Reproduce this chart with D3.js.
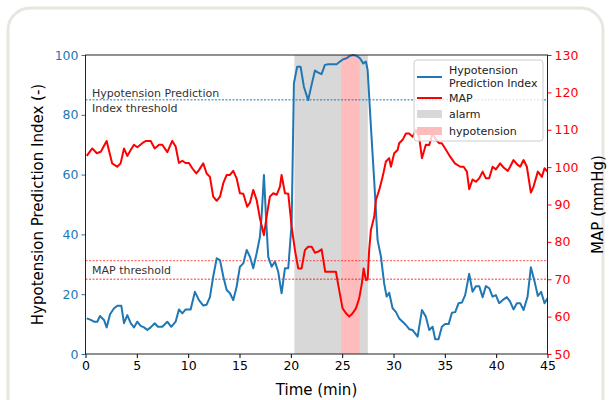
<!DOCTYPE html>
<html>
<head>
<meta charset="utf-8">
<script src="https://cdn.jsdelivr.net/npm/d3@7"></script>
<style>
  body { margin: 0; background: #fff; }
  svg { font-family: "DejaVu Sans", sans-serif; }
</style>
</head>
<body>
<svg id="chart" width="614" height="400"></svg>
<script>
// HPI (Hypotension Prediction Index)
var hpiTime = [0.12,0.51,0.83,1.15,1.41,1.80,2.06,2.39,2.78,3.10,3.49,3.75,4.07,4.40,4.72,5.04,5.37,5.70,6.02,6.35,6.74,7.06,7.48,7.97,8.35,8.78,9.10,9.43,9.76,10.24,10.66,11.05,11.47,11.80,12.12,12.44,12.78,13.10,13.42,13.75,14.07,14.39,14.72,15.04,15.37,15.70,16.02,16.34,16.67,16.99,17.15,17.38,17.58,17.80,18.13,18.45,18.77,19.10,19.43,19.75,20.08,20.30,20.62,20.95,21.27,21.69,22.02,22.35,22.67,22.99,23.32,23.64,24.13,24.46,24.78,25.10,25.43,25.75,26.08,26.41,26.73,27.05,27.31,27.48,27.80,28.12,28.45,28.78,29.09,29.33,29.58,29.91,30.23,30.55,30.89,31.21,31.53,31.86,32.35,32.77,33.15,33.48,33.81,34.06,34.39,34.71,35.03,35.37,35.69,36.01,36.34,36.66,36.98,37.37,37.70,38.02,38.35,38.68,39.00,39.32,39.65,39.97,40.29,40.62,41.04,41.36,41.69,42.02,42.34,42.67,43.06,43.38,43.71,44.06,44.38,44.71,45.0];
var hpiValues = [11.9,11.4,10.8,10.8,12.7,11.4,8.9,13.3,15.3,16.1,16.1,10.3,13.0,10.3,8.9,10.8,9.4,8.9,8.0,8.9,10.3,9.1,9.1,10.8,9.1,10.8,14.9,13.6,14.9,14.9,20.8,18.0,16.2,16.5,19.0,25.9,32.0,31.4,25.9,21.4,20.3,18.0,22.5,29.2,30.3,34.8,32.5,28.7,33.7,39.2,45.9,59.9,45.9,32.5,29.2,30.9,27.5,20.3,28.7,28.7,43.7,90.5,96.1,96.1,89.4,84.9,90.0,94.8,94.1,93.6,96.7,96.9,96.9,96.9,97.8,98.6,98.9,99.7,100,99.7,98.9,97.2,97.8,95.0,76.0,58.0,38.1,32.5,23.6,19.2,20.5,15.3,14.1,11.9,10.8,9.7,8.3,8.0,5.8,14.7,12.5,8.0,9.1,4.9,4.9,9.1,10.0,10.0,13.8,14.0,17.0,17.2,19.7,26.8,20.8,22.7,22.7,19.0,22.7,22.0,19.2,19.7,17.0,18.0,19.0,17.5,14.9,17.0,17.0,14.7,19.2,29.0,24.7,19.4,20.8,17.0,18.6];

// MAP (mmHg)
var mapTime = [0.12,0.66,1.10,1.49,2.06,2.60,3.09,3.42,3.75,4.07,4.40,4.72,5.05,5.53,5.86,6.35,6.74,7.16,7.48,7.97,8.45,8.78,9.10,9.43,9.75,10.08,10.40,10.79,11.05,11.47,11.80,12.12,12.44,12.78,13.10,13.42,13.75,14.07,14.39,14.72,15.04,15.37,15.75,16.02,16.34,16.67,16.99,17.38,17.64,17.96,18.29,18.62,18.94,19.10,19.43,19.75,20.08,20.40,20.72,21.05,21.37,21.69,22.03,22.35,22.67,23.00,23.35,23.74,24.07,24.39,24.71,25.04,25.37,25.69,26.02,26.34,26.66,26.92,27.09,27.31,27.48,27.63,27.80,28.12,28.29,28.61,28.94,29.26,29.58,29.75,30.07,30.40,30.55,30.89,31.21,31.53,31.86,32.18,32.50,32.77,33.15,33.48,33.81,34.14,34.46,34.71,35.03,35.52,35.98,36.50,36.83,37.15,37.37,37.70,38.02,38.35,38.68,39.00,39.32,39.65,39.97,40.39,40.72,41.14,41.36,41.69,42.02,42.34,42.67,42.99,43.38,43.64,44.06,44.45,44.71,45.0];
var mapValues = [103,105,103.7,104.1,107,101,100.1,101,105,103,104.6,106,105.3,106.4,107,107,105,106,106,104,107,105.5,101.1,101.7,101.1,101.1,99.7,98.3,99.2,101,98.3,97.4,92.1,91.0,92.1,95.7,97.9,97.9,99.0,97.0,93.0,92.9,89.4,90.5,93.9,91.2,86.3,81.8,86.7,92.1,93.0,92.6,94.8,97.9,93.0,92.9,84.0,77.8,72.9,72.9,77.8,78.7,78.7,77.1,77.4,78.0,72,72,72,72,67.1,62.2,60.9,60.0,60.9,62.2,64.9,68.9,72.9,69.8,69.9,77.8,83.2,86.7,91.2,93.9,97.4,101.5,102.4,100.1,103.7,104.6,106.4,107.3,109,109,108.1,109.9,108.1,102.4,106,105.9,109,107.3,106.4,106.4,105,102.8,101,100.1,100.1,98.8,94.1,96.7,96.1,97,98.8,97,97,100.1,99.4,101,99.9,99,100.1,101.9,100.8,100.1,101.9,100.1,93.2,94.8,98.8,97.4,99.7,98.8];

var alarmSpan = [20.35, 27.5];
var hypoSpan = [24.9, 26.7];
var hpiThreshold = 85;
var mapThresholds = [75, 70];
var xTicks = [0,5,10,15,20,25,30,35,40,45];
var hpiTicks = [0,20,40,60,80,100];
var mapTicks = [50,60,70,80,90,100,110,120,130];

var blue = "#1f77b4", red = "#ff0000";
// plot box in pixels
var pLeft = 85.5, pRight = 547.5, pTop = 55, pBottom = 354;

var svg = d3.select("#chart");

// card outline
svg.append("rect")
  .attr("x", 8).attr("y", 8).attr("width", 595).attr("height", 430)
  .attr("rx", 22)
  .attr("fill", "#fff").attr("stroke", "#e8e6df").attr("stroke-width", 3);

var x = d3.scaleLinear().domain([0, 45]).range([pLeft, pRight]);
var yL = d3.scaleLinear().domain([0, 100]).range([pBottom, pTop]);
var yR = d3.scaleLinear().domain([50, 130]).range([pBottom, pTop]);

// shaded spans
svg.append("rect")
  .attr("x", x(alarmSpan[0])).attr("y", pTop)
  .attr("width", x(alarmSpan[1]) - x(alarmSpan[0])).attr("height", pBottom - pTop)
  .attr("fill", "#d8d8d8");
svg.append("rect")
  .attr("x", x(hypoSpan[0])).attr("y", pTop)
  .attr("width", x(hypoSpan[1]) - x(hypoSpan[0])).attr("height", pBottom - pTop)
  .attr("fill", "#ffbcbc");

// thresholds
svg.append("line")
  .attr("x1", pLeft).attr("x2", pRight)
  .attr("y1", yL(hpiThreshold)).attr("y2", yL(hpiThreshold))
  .attr("stroke", blue).attr("stroke-width", 1).attr("stroke-dasharray", "2,1.5");
svg.selectAll(".mapth")
  .data(mapThresholds)
  .enter()
  .append("line")
  .attr("class", "mapth")
  .attr("x1", pLeft).attr("x2", pRight)
  .attr("y1", d => yR(d)).attr("y2", d => yR(d))
  .attr("stroke", red).attr("stroke-opacity", 0.55)
  .attr("stroke-width", 1.3).attr("stroke-dasharray", "2,1.5");

svg.append("text").attr("x", 92).attr("y", 97).attr("font-size", 11).attr("fill", "#333")
  .text("Hypotension Prediction");
svg.append("text").attr("x", 92).attr("y", 112).attr("font-size", 11).attr("fill", "#333")
  .text("Index threshold");
svg.append("text").attr("x", 92).attr("y", 274).attr("font-size", 11).attr("fill", "#333")
  .text("MAP threshold");

// lines
var hpiLine = d3.line().x(d => x(d[0])).y(d => yL(d[1]));
var mapLine = d3.line().x(d => x(d[0])).y(d => yR(d[1]));

svg.append("path")
  .datum(d3.zip(hpiTime, hpiValues))
  .attr("d", hpiLine)
  .attr("fill", "none").attr("stroke", blue).attr("stroke-width", 2)
  .attr("stroke-linejoin", "round");
svg.append("path")
  .datum(d3.zip(mapTime, mapValues))
  .attr("d", mapLine)
  .attr("fill", "none").attr("stroke", red).attr("stroke-width", 2)
  .attr("stroke-linejoin", "round");

// axes
var xAxis = svg.append("g")
  .attr("transform", "translate(0," + pBottom + ")")
  .call(d3.axisBottom(x).tickValues(xTicks).tickSize(4).tickPadding(3));
var lAxis = svg.append("g")
  .attr("transform", "translate(" + pLeft + ",0)")
  .call(d3.axisLeft(yL).tickValues(hpiTicks).tickSize(4).tickPadding(3));
var rAxis = svg.append("g")
  .attr("transform", "translate(" + pRight + ",0)")
  .call(d3.axisRight(yR).tickValues(mapTicks).tickSize(4).tickPadding(3));

[xAxis, lAxis, rAxis].forEach(function(g) {
  g.select(".domain").remove();
  g.selectAll("text").attr("font-size", 12.5).attr("font-family", "DejaVu Sans, sans-serif");
});
lAxis.selectAll("line").attr("stroke", blue);
lAxis.selectAll("text").attr("fill", blue);
rAxis.selectAll("line").attr("stroke", red);
rAxis.selectAll("text").attr("fill", red);

// frame
svg.append("rect")
  .attr("x", pLeft).attr("y", pTop).attr("width", pRight - pLeft).attr("height", pBottom - pTop)
  .attr("fill", "none").attr("stroke", "#222").attr("stroke-width", 1);

// axis labels
svg.append("text")
  .attr("x", (pLeft + pRight) / 2).attr("y", 395)
  .attr("text-anchor", "middle").attr("font-size", 15)
  .text("Time (min)");
svg.append("text")
  .attr("transform", "translate(43," + (pTop + pBottom) / 2 + ") rotate(-90)")
  .attr("text-anchor", "middle").attr("font-size", 15)
  .text("Hypotension Prediction Index (-)");
svg.append("text")
  .attr("transform", "translate(603," + (pTop + pBottom) / 2 + ") rotate(-90)")
  .attr("text-anchor", "middle").attr("font-size", 15)
  .text("MAP (mmHg)");

// legend
var legend = svg.append("g");
legend.append("rect")
  .attr("x", 414).attr("y", 60).attr("width", 129).attr("height", 81)
  .attr("rx", 3)
  .attr("fill", "#fff").attr("fill-opacity", 0.8)
  .attr("stroke", "#ccc").attr("stroke-width", 1);

var legendLines = [
  { label: ["Hypotension", "Prediction Index"], color: blue, y: 77 },
  { label: ["MAP"], color: red, y: 98 }
];
var legendPatches = [
  { label: "alarm", color: "#d8d8d8", y: 114 },
  { label: "hypotension", color: "#ffbcbc", y: 131 }
];

legendLines.forEach(function(d) {
  legend.append("line")
    .attr("x1", 417).attr("x2", 442).attr("y1", d.y).attr("y2", d.y)
    .attr("stroke", d.color).attr("stroke-width", 2);
  var t = legend.append("text").attr("x", 449).attr("font-size", 11).attr("fill", "#222");
  if (d.label.length === 2) {
    t.append("tspan").attr("x", 449).attr("y", d.y - 3).text(d.label[0]);
    t.append("tspan").attr("x", 449).attr("y", d.y + 10).text(d.label[1]);
  } else {
    t.attr("y", d.y + 4).text(d.label[0]);
  }
});
legendPatches.forEach(function(d) {
  legend.append("rect")
    .attr("x", 417).attr("y", d.y - 4).attr("width", 25).attr("height", 8)
    .attr("fill", d.color);
  legend.append("text")
    .attr("x", 449).attr("y", d.y + 4).attr("font-size", 11).attr("fill", "#222")
    .text(d.label);
});
</script>
</body>
</html>
